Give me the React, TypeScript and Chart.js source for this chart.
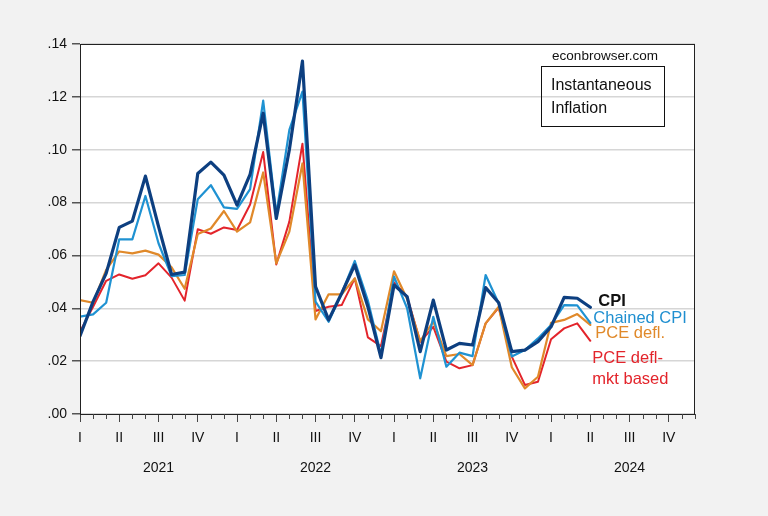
import React, { useEffect, useRef } from "react";
import { Chart, registerables } from "chart.js";

Chart.register(...registerables);

// Monthly observations, Jan 2021 (index 0) through Apr 2024
const CPI = [
  0.0295, 0.0425, 0.0532, 0.0706, 0.073, 0.09, 0.071, 0.0528, 0.0537, 0.091, 0.0953, 0.0904,
  0.079, 0.0907, 0.1138, 0.074, 0.1, 0.1335, 0.0482, 0.0356, 0.0457, 0.0564, 0.0406, 0.0213,
  0.0488, 0.0444, 0.0236, 0.0431, 0.0242, 0.0267, 0.0261, 0.0478, 0.0421, 0.0236, 0.0242, 0.0274,
  0.033, 0.0441, 0.0438, 0.0404,
];
const CHAINED_CPI = [
  0.0368, 0.0377, 0.0421, 0.0661, 0.0661, 0.0825, 0.0646, 0.0522, 0.0526, 0.0813, 0.0866, 0.0782,
  0.0776, 0.0851, 0.1186, 0.0755, 0.1075, 0.122, 0.0425, 0.0349, 0.0458, 0.0579, 0.0429, 0.0225,
  0.052, 0.04, 0.0135, 0.0368, 0.0179, 0.0232, 0.0219, 0.0526, 0.0418, 0.0218, 0.0242, 0.0286,
  0.0337, 0.0412, 0.0411, 0.0345,
];
const PCE_DEFL = [
  0.0431, 0.0421, 0.0545, 0.0615, 0.0608, 0.0618, 0.0603, 0.0555, 0.0474, 0.0681, 0.0702, 0.0768,
  0.069, 0.0725, 0.0914, 0.057, 0.069, 0.0948, 0.0358, 0.0453, 0.0453, 0.0513, 0.0358, 0.0313,
  0.054, 0.0435, 0.0276, 0.035, 0.0219, 0.0227, 0.0185, 0.0343, 0.0406, 0.0177, 0.0097, 0.0141,
  0.0345, 0.0356, 0.0378, 0.0337,
];
const PCE_MKT = [
  0.0312, 0.0406, 0.0504, 0.0528, 0.0512, 0.0525, 0.057, 0.0516, 0.0429, 0.0699, 0.0682, 0.0706,
  0.0696, 0.0793, 0.0991, 0.0566, 0.0728, 0.1023, 0.039, 0.0406, 0.0412, 0.0513, 0.029, 0.0257,
  0.0498, 0.0444, 0.0273, 0.033, 0.0198, 0.0173, 0.0185, 0.0343, 0.0403, 0.0217, 0.011, 0.0122,
  0.0283, 0.0324, 0.0343, 0.0277,
];

const QUARTER_LABELS = ["I", "II", "III", "IV"];
const YEAR_LABELS = ["2021", "2022", "2023", "2024"];
const Y_TICKS = [0, 0.02, 0.04, 0.06, 0.08, 0.1, 0.12, 0.14];
const MONTHS_TOTAL = 48;

const FONT = "'Liberation Sans', Arial, sans-serif";

const toPoints = (arr: number[]) => arr.map((v, i) => ({ x: i, y: v }));

const decorPlugin = {
  id: "decor",
  beforeDraw(chart: any) {
    const { ctx, chartArea } = chart;
    ctx.save();
    ctx.fillStyle = "#f2f2f2";
    ctx.fillRect(0, 0, chart.width, chart.height);
    ctx.fillStyle = "#ffffff";
    ctx.fillRect(chartArea.left, chartArea.top, chartArea.right - chartArea.left, chartArea.bottom - chartArea.top);
    ctx.restore();
  },
  afterDraw(chart: any) {
    const { ctx, chartArea, scales } = chart;
    const xs = scales.x;
    const ys = scales.y;
    ctx.save();
    // frame
    ctx.strokeStyle = "#222";
    ctx.lineWidth = 1;
    ctx.strokeRect(chartArea.left + 0.5, chartArea.top + 0.5, chartArea.right - chartArea.left - 1, chartArea.bottom - chartArea.top);
    // minor month ticks
    ctx.strokeStyle = "#444";
    for (let m = 0; m < MONTHS_TOTAL; m++) {
      if (m % 3 === 0) continue;
      const px = Math.round(xs.getPixelForValue(m)) + 0.5;
      ctx.beginPath();
      ctx.moveTo(px, chartArea.bottom);
      ctx.lineTo(px, chartArea.bottom + 5);
      ctx.stroke();
    }
    // source and title box
    ctx.fillStyle = "#111";
    ctx.font = `13.5px ${FONT}`;
    ctx.textAlign = "center";
    ctx.textBaseline = "middle";
    ctx.fillText("econbrowser.com", 605, 56);
    ctx.strokeStyle = "#111";
    ctx.strokeRect(541.5, 66.5, 123, 60);
    ctx.font = `16px ${FONT}`;
    ctx.textAlign = "left";
    ctx.fillText("Instantaneous", 551, 86);
    ctx.fillText("Inflation", 551, 109);
    // series labels at line ends
    const xEnd = xs.getPixelForValue(CPI.length - 1);
    const labels = [
      { text: "CPI", color: "#111111", bold: true, dx: 8, v: 0.0424 },
      { text: "Chained CPI", color: "#1f8fd0", bold: false, dx: 3, v: 0.0363 },
      { text: "PCE defl.", color: "#e0892a", bold: false, dx: 5, v: 0.0303 },
      { text: "PCE defl-", color: "#e3242b", bold: false, dx: 2, v: 0.0212 },
      { text: "mkt based", color: "#e3242b", bold: false, dx: 2, v: 0.0132 },
    ];
    for (const l of labels) {
      ctx.font = `${l.bold ? "bold " : ""}16.5px ${FONT}`;
      ctx.fillStyle = l.color;
      ctx.fillText(l.text, xEnd + l.dx, ys.getPixelForValue(l.v));
    }
    ctx.restore();
  },
};

export default function App() {
  const ref = useRef<HTMLCanvasElement | null>(null);

  useEffect(() => {
    if (!ref.current) return;
    const common = { pointRadius: 0, tension: 0, borderJoinStyle: "round" as const, borderCapStyle: "round" as const };
    const chart = new Chart(ref.current, {
      type: "line",
      data: {
        datasets: [
          { label: "CPI", data: toPoints(CPI), borderColor: "#0d3f80", borderWidth: 3.2, ...common },
          { label: "Chained CPI", data: toPoints(CHAINED_CPI), borderColor: "#1f92d2", borderWidth: 2.2, ...common },
          { label: "PCE defl.", data: toPoints(PCE_DEFL), borderColor: "#e0892a", borderWidth: 2.2, ...common },
          { label: "PCE defl-mkt based", data: toPoints(PCE_MKT), borderColor: "#e3242b", borderWidth: 2, ...common },
        ],
      },
      options: {
        animation: false,
        responsive: false,
        devicePixelRatio: 1,
        layout: { padding: { top: 44, right: 73, left: 0, bottom: 26 } },
        plugins: { legend: { display: false }, tooltip: { enabled: false } },
        scales: {
          x: {
            type: "linear",
            position: "bottom",
            weight: 0,
            min: 0,
            max: MONTHS_TOTAL - 1,
            afterBuildTicks: (scale: any) => {
              const t = [];
              for (let m = 0; m < MONTHS_TOTAL; m += 3) t.push({ value: m });
              scale.ticks = t;
            },
            afterFit: (scale: any) => {
              scale.height = 36;
            },
            ticks: {
              autoSkip: false,
              maxRotation: 0,
              padding: 8,
              color: "#111",
              font: { family: FONT, size: 14 },
              callback: (v: any) => QUARTER_LABELS[Math.round(Number(v) / 3) % 4],
            },
            grid: { drawOnChartArea: false, tickLength: 8, tickColor: "#444", color: "#444" },
            border: { display: true, color: "#222" },
          },
          x2: {
            type: "linear",
            position: "bottom",
            weight: 1,
            min: 0,
            max: MONTHS_TOTAL - 1,
            afterBuildTicks: (scale: any) => {
              scale.ticks = YEAR_LABELS.map((_, i) => ({ value: i * 12 + 6 }));
            },
            afterFit: (scale: any) => {
              scale.height = 40;
            },
            ticks: {
              autoSkip: false,
              maxRotation: 0,
              padding: 10,
              color: "#111",
              font: { family: FONT, size: 14 },
              callback: (_v: any, i: number) => YEAR_LABELS[i],
            },
            grid: { display: false, drawTicks: false },
            border: { display: false },
          },
          y: {
            type: "linear",
            min: 0,
            max: 0.14,
            afterBuildTicks: (scale: any) => {
              scale.ticks = Y_TICKS.map((v) => ({ value: v }));
            },
            afterFit: (scale: any) => {
              scale.width = 80;
            },
            ticks: {
              padding: 5,
              color: "#111",
              font: { family: FONT, size: 14 },
              callback: (v: any) => Number(v).toFixed(2).replace(/^0/, ""),
            },
            grid: { color: "#d6d6d6", lineWidth: 1.5, tickLength: 8, tickColor: "#555" },
            border: { display: true, color: "#222" },
          },
        },
      },
      plugins: [decorPlugin],
    });
    return () => chart.destroy();
  }, []);

  return (
    <div style={{ position: "absolute", left: 0, top: 0, width: 768, height: 516, background: "#f2f2f2" }}>
      <canvas ref={ref} width={768} height={516} style={{ display: "block", width: 768, height: 516 }} />
    </div>
  );
}
